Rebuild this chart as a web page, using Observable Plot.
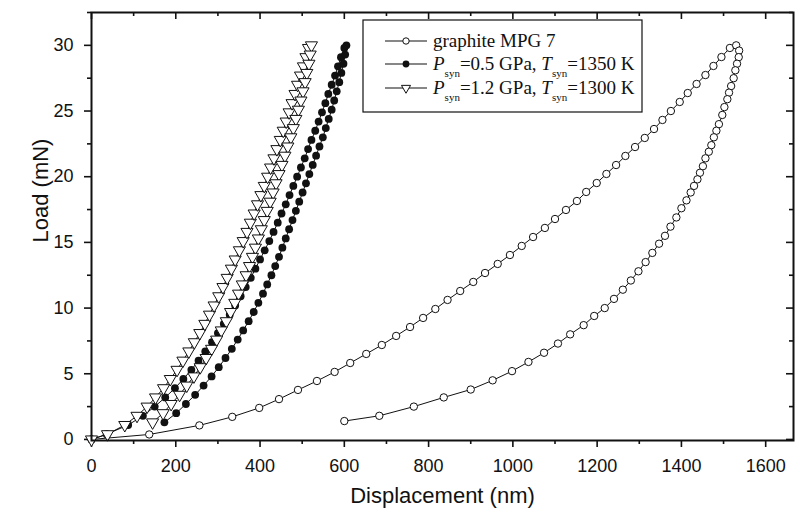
<!DOCTYPE html>
<html><head><meta charset="utf-8">
<script src="https://cdn.jsdelivr.net/npm/d3@7"></script>
<script src="https://cdn.jsdelivr.net/npm/@observablehq/plot@0.6"></script>
<style>body{margin:0;background:#fff}</style>
</head><body><div id="chart"></div>
<script>
// ---- data (displacement nm, load mN) ----
const graphiteLoadX = [0,137,256,334,398,445,490,535,577,614,652,689,723,756,787,816,845,875,906,934,964,993,1021,1048,1076,1100,1126,1152,1174,1199,1222,1245,1267,1290,1313,1335,1355,1375,1396,1415,1436,1457,1476,1495,1515];
const graphiteLoadY = [0,0.38,1.07,1.72,2.40,3.07,3.77,4.45,5.14,5.82,6.51,7.19,7.88,8.56,9.25,9.93,10.62,11.30,11.99,12.67,13.36,14.04,14.73,15.41,16.10,16.78,17.47,18.15,18.84,19.52,20.21,20.89,21.58,22.26,22.95,23.63,24.32,25.00,25.69,26.37,27.06,27.74,28.43,29.11,29.80];
const graphiteUnloadX = [1530,1537,1536,1532,1528,1524,1518,1513,1509,1502,1497,1489,1483,1477,1471,1465,1457,1451,1444,1438,1430,1422,1412,1400,1388,1374,1361,1347,1331,1315,1298,1280,1261,1240,1218,1193,1168,1136,1107,1074,1037,998,952,900,836,765,683,600];
const graphiteUnloadY = [30.0,29.6,29.1,28.6,28.1,27.5,26.9,26.4,25.9,25.3,24.7,24.0,23.5,23.0,22.4,21.9,21.4,20.8,20.3,19.8,19.3,18.8,18.2,17.6,16.9,16.2,15.5,14.9,14.2,13.5,12.8,12.1,11.4,10.7,10.0,9.4,8.7,8.0,7.3,6.6,5.9,5.2,4.5,3.8,3.2,2.5,1.8,1.4];

const sampleLoadY = [0,0.4,1.1,1.8,2.5,3.2,3.9,4.6,5.3,6.0,6.7,7.4,8.1,8.8,9.5,10.2,10.9,11.6,12.3,13.0,13.7,14.4,15.1,15.8,16.5,17.2,17.9,18.6,19.3,20.0,20.7,21.4,22.1,22.8,23.5,24.2,24.9,25.6,26.3,27.0,27.7,28.4,29.1,29.8];
const sampleUnloadY = [30.0,29.3,28.6,27.9,27.2,26.5,25.8,25.1,24.4,23.7,23.0,22.3,21.6,20.9,20.2,19.5,18.8,18.1,17.4,16.7,16.0,15.3,14.6,13.9,13.2,12.5,11.8,11.1,10.4,9.7,9.0,8.3,7.6,6.9,6.2,5.5,4.8,4.1,3.4,2.7,2.0,1.3];

const p05LoadX = [0,36,87,122,150,175,198,218,237,254,270,286,300,314,328,341,354,366,378,389,400,411,422,432,442,451,461,470,479,488,497,506,514,522,531,539,547,555,562,570,578,585,592,600];
const p05UnloadX = [605,602,598,593,588,582,576,570,563,556,549,541,533,525,517,509,501,493,485,477,469,461,453,445,436,427,417,407,396,385,373,360,347,333,318,302,285,266,246,224,201,173];

const p12LoadX = [0,38,79,108,132,152,171,187,203,217,231,244,257,269,280,291,302,312,322,332,341,351,360,369,377,386,394,402,410,418,425,433,440,448,455,462,469,476,483,489,496,503,509,515];
const p12UnloadX = [522,519,516,511,507,502,497,491,485,479,473,466,459,452,445,438,431,424,417,410,403,396,389,382,375,367,358,349,340,330,320,308,297,285,272,258,243,226,209,189,170,145];

const xTicks = [0,200,400,600,800,1000,1200,1400,1600];
const xMinorTicks = [100,300,500,700,900,1100,1300,1500];
const yTicks = [0,5,10,15,20,25,30];
const yMinorTicks = [2.5,7.5,12.5,17.5,22.5,27.5,32.5];

const legendLabels = ["graphite MPG 7", ["0.5 GPa", "1350 K"], ["1.2 GPa", "1300 K"]];

// ---- build rows ----
const pairs = (xs, ys) => xs.map((x, i) => ({x, y: ys[i]}));
const graphite = [...pairs(graphiteLoadX, graphiteLoadY), ...pairs(graphiteUnloadX, graphiteUnloadY)];
const p05 = [...pairs(p05LoadX, sampleLoadY), ...pairs(p05UnloadX, sampleUnloadY)];
const p12 = [...pairs(p12LoadX, sampleLoadY), ...pairs(p12UnloadX, sampleUnloadY)];

const xMax = 1666, yMin = -0.08, yMax = 32.5;
const mT = 12, mB = 83, H = 523;
const pxPerY = (H - mT - mB) / (yMax - yMin);
const pxPerX = (800 - 91 - 7) / xMax;
const ink = "#111";

const plot = Plot.plot({
  width: 800, height: H,
  marginLeft: 91, marginRight: 7, marginTop: mT, marginBottom: mB,
  x: {domain: [0, xMax]},
  y: {domain: [yMin, yMax]},
  style: {fontFamily: "'Liberation Sans', Arial, sans-serif", fontSize: "18px", color: ink, background: "white"},
  marks: [
    Plot.axisX({ticks: xMinorTicks, tickSize: 4, tickFormat: () => "", label: null, strokeWidth: 1.6}),
    Plot.axisX({ticks: xTicks, tickSize: 7, tickPadding: 12, tickFormat: d => String(d), label: null, strokeWidth: 1.6, fontSize: 18}),
    Plot.axisY({ticks: yMinorTicks, tickSize: 4, tickFormat: () => "", label: null, strokeWidth: 1.6}),
    Plot.axisY({ticks: yTicks, tickSize: 7, tickPadding: 11, tickFormat: d => String(d), label: null, strokeWidth: 1.6, fontSize: 18}),
    Plot.ruleX(xTicks, {x: d => d, y1: yMax, y2: yMax - 7 / pxPerY, stroke: ink, strokeWidth: 1.6}),
    Plot.ruleX(xMinorTicks, {x: d => d, y1: yMax, y2: yMax - 4 / pxPerY, stroke: ink, strokeWidth: 1.6}),
    Plot.ruleY(yTicks, {y: d => d, x1: xMax, x2: xMax - 7 / pxPerX, stroke: ink, strokeWidth: 1.6}),
    Plot.ruleY(yMinorTicks, {y: d => d, x1: xMax, x2: xMax - 4 / pxPerX, stroke: ink, strokeWidth: 1.6}),
    Plot.line(graphite, {x: "x", y: "y", stroke: ink, strokeWidth: 1}),
    Plot.dot(graphite, {x: "x", y: "y", r: 3.7, fill: "white", stroke: ink, strokeWidth: 1}),
    Plot.line(p05, {x: "x", y: "y", stroke: ink, strokeWidth: 1}),
    Plot.dot(p05, {x: "x", y: "y", r: 3.9, fill: ink, stroke: "none"}),
    Plot.line(p12, {x: "x", y: "y", stroke: ink, strokeWidth: 1}),
    Plot.dot(p12, {x: "x", y: "y", symbol: "triangle", rotate: 180, r: 4.5, fill: "white", stroke: ink, strokeWidth: 1}),
    Plot.frame({stroke: ink, strokeWidth: 2}),
    Plot.text(["Load (mN)"], {frameAnchor: "left", rotate: -90, dx: -51, dy: 16, fontSize: 22, fill: ink}),
    Plot.text(["Displacement (nm)"], {frameAnchor: "bottom", dy: 62, fontSize: 22, fill: ink})
  ]
});
document.getElementById("chart").appendChild(plot);

// ---- legend ----
const svg = d3.select(plot);
const lg = svg.append("g")
  .attr("font-family", "'Liberation Serif', 'Times New Roman', serif")
  .attr("font-size", 19).attr("fill", ink).attr("text-anchor", "start");
lg.append("rect").attr("x", 363).attr("y", 20).attr("width", 279).attr("height", 92)
  .attr("fill", "white").attr("stroke", ink).attr("stroke-width", 1.2);
const rowsY = [41, 64, 88];
rowsY.forEach((cy, i) => {
  lg.append("line").attr("x1", 385).attr("x2", 427).attr("y1", cy).attr("y2", cy)
    .attr("stroke", ink).attr("stroke-width", 1.1);
  if (i === 0) lg.append("circle").attr("cx", 406).attr("cy", cy).attr("r", 3.2).attr("fill", "white").attr("stroke", ink);
  if (i === 1) lg.append("circle").attr("cx", 406).attr("cy", cy).attr("r", 3.4).attr("fill", ink);
  if (i === 2) lg.append("path").attr("d", d3.symbol(d3.symbolTriangle, 36)())
    .attr("transform", `translate(406,${cy}) rotate(180)`).attr("fill", "white").attr("stroke", ink);
});
lg.append("text").attr("x", 433).attr("y", rowsY[0] + 6).text(legendLabels[0]);
function subRow(y, pVal, tVal) {
  const t = lg.append("text").attr("x", 433).attr("y", y);
  t.append("tspan").attr("font-style", "italic").text("P");
  t.append("tspan").attr("font-size", 11).attr("dy", 7).text("syn");
  t.append("tspan").attr("dy", -7).text("=" + pVal + ", ");
  t.append("tspan").attr("font-style", "italic").text("T");
  t.append("tspan").attr("font-size", 11).attr("dy", 7).text("syn");
  t.append("tspan").attr("dy", -7).text("=" + tVal);
}
subRow(rowsY[1] + 6, legendLabels[1][0], legendLabels[1][1]);
subRow(rowsY[2] + 6, legendLabels[2][0], legendLabels[2][1]);
</script>
</body></html>
